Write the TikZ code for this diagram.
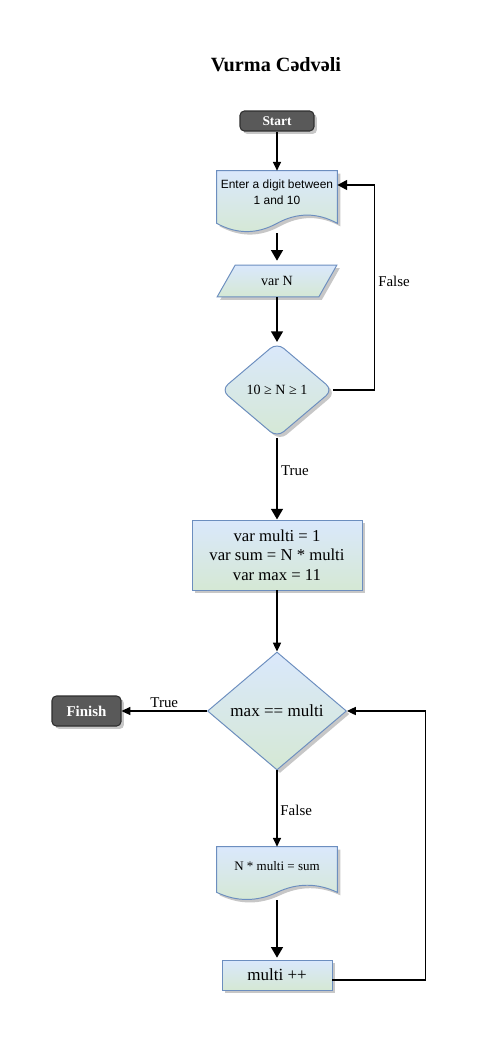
\documentclass[tikz,border=0pt]{standalone}
\usepackage{fontspec}
\setmainfont{Liberation Serif}
\newfontfamily\arialfont{Liberation Sans}
\usetikzlibrary{shapes.geometric,arrows.meta,shadows,calc,backgrounds}

\definecolor{boxtop}{HTML}{DAE8FC}
\definecolor{boxbot}{HTML}{D5E8D4}
\definecolor{boxline}{HTML}{6C8EBF}
\definecolor{termfill}{HTML}{595959}
\definecolor{termline}{HTML}{2E2E2E}

\tikzset{
  boxshade/.style={draw=boxline, line width=0.55pt, top color=boxtop, bottom color=boxbot,
    drop shadow={shadow xshift=1.7pt, shadow yshift=-1.7pt, fill=black, opacity=0.22}},
  termbox/.style={rectangle, rounded corners=2.5pt, draw=termline, line width=0.6pt,
    fill=termfill, text=white, inner sep=0pt,
    drop shadow={shadow xshift=1.7pt, shadow yshift=-1.7pt, fill=black, opacity=0.22}},
  procbox/.style={rectangle, boxshade, align=center, inner sep=0pt},
  decbox/.style={diamond, boxshade, align=center, inner sep=0pt},
  textonly/.style={rectangle, inner sep=0pt, align=center},
  thinarrow/.style={line width=0.7pt, -{Triangle[length=5pt,width=4.6pt]}},
  medarrow/.style={line width=1.1pt, -{Triangle[length=5.5pt,width=5.5pt]}},
  thickarrow/.style={line width=1.4pt, -{Triangle[length=6pt,width=6.5pt]}},
  lbl/.style={font=\fontsize{8.5}{10}\selectfont, inner sep=1.6pt},
}

% wavy document outline round a text node: name, end offset, upper and lower control offsets
\newcommand{\docshape}[4]{%
  \draw[boxshade] (#1.north west) -- (#1.north east) -- ($(#1.south east)+(0,#2)$)
    .. controls ($(#1.south west)!5/6!(#1.south east)+(0,#3)$) and ($(#1.south west)!2/3!(#1.south east)+(0,#3)$) .. ($(#1.south)+(0,#2)$)
    .. controls ($(#1.south west)!1/3!(#1.south east)+(0,#4)$) and ($(#1.south west)!1/6!(#1.south east)+(0,#4)$) .. ($(#1.south west)+(0,#2)$)
    -- cycle;}

\begin{document}
\begin{tikzpicture}[x=0.02cm,y=-0.02cm]
\useasboundingbox (0,0) rectangle (484,1044);

\node[font=\bfseries\fontsize{11.5}{14}\selectfont] (title) at (276,65) {Vurma Cədvəli};

\node[termbox, minimum width=1.48cm, minimum height=0.4cm, font=\bfseries\fontsize{7.6}{9}\selectfont] (start) at (277,121) {Start};
\node[textonly, minimum width=2.4cm, minimum height=0.84cm, font=\arialfont\fontsize{6.8}{9}\selectfont] (enter) at (277,192) {Enter a digit between\\1 and 10};
\coordinate (enterb) at ($(enter.south)+(0,20)$);
\node[textonly, minimum width=2.38cm, minimum height=0.62cm, font=\fontsize{8}{10}\selectfont] (varn) at (277,281) {var N};
\node[decbox, rounded corners=5pt, minimum width=2.24cm, minimum height=1.9cm, font=\fontsize{8}{10}\selectfont] (check) at (277,390) {10 ≥ N ≥ 1};
\node[procbox, minimum width=3.4cm, minimum height=1.4cm, font=\fontsize{9.5}{11}\selectfont] (init) at (277,555) {var multi = 1\\var sum = N * multi\\var max = 11};
\node[decbox, minimum width=2.78cm, minimum height=2.36cm, font=\fontsize{9.7}{11}\selectfont] (loop) at (277,711) {max == multi};
\node[termbox, minimum width=1.38cm, minimum height=0.6cm, font=\bfseries\fontsize{8.5}{10}\selectfont] (finish) at (86.5,711) {Finish};
\node[textonly, minimum width=2.4cm, minimum height=0.76cm, font=\fontsize{7.4}{9}\selectfont] (sumdoc) at (277,866) {N * multi = sum};
\coordinate (sumdocb) at ($(sumdoc.south)+(0,15)$);
\node[procbox, minimum width=2.2cm, minimum height=0.6cm, font=\fontsize{9.7}{11}\selectfont] (incr) at (277,975) {multi ++};

\begin{pgfonlayer}{background}
\fill[white] (0,0) rectangle (484,1044);
\docshape{enter}{10}{-1}{21}
\draw[boxshade] ($(varn.north west)+(18,0)$) -- (varn.north east) -- ($(varn.south east)+(-18,0)$) -- (varn.south west) -- cycle;
\docshape{sumdoc}{7}{-2.5}{16.5}
\end{pgfonlayer}

\draw[thinarrow] (start) -- (enter);
\draw[thickarrow, shorten >=2.5pt] (enterb) -- (varn);
\draw[thickarrow] (varn) -- (check);
\draw[medarrow] (check.east) -- ++(41,0) |- ($(enter.east)+(0,-7)$) node[lbl, pos=0.266, right] {False};
\draw[thickarrow] (check) -- (init) node[lbl, pos=0.4, right] {True};
\draw[thinarrow] (init) -- (loop);
\draw[thinarrow] (loop) -- (finish) node[lbl, midway, above] {True};
\draw[thinarrow] (loop) -- (sumdoc) node[lbl, pos=0.53, right] {False};
\draw[thickarrow, shorten >=1pt] (sumdocb) -- (incr);
\draw[thinarrow] ($(incr.east)+(0,5)$) -- ++(93,0) |- (loop.east);
\end{tikzpicture}
\end{document}
